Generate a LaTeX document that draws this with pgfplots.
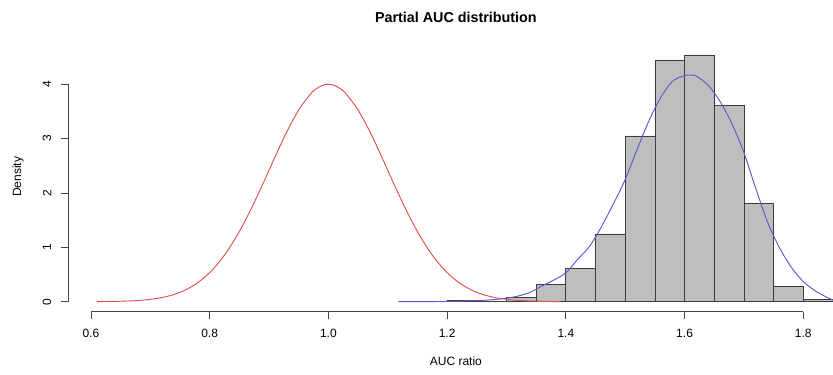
\documentclass[border=0pt]{standalone}
\usepackage{fontspec}
\setmainfont{Liberation Sans}
\usepackage{pgfplots}
\pgfplotsset{compat=1.18}
\definecolor{histgray}{RGB}{190,190,190}
\definecolor{histedge}{RGB}{60,60,60}
\definecolor{rline}{RGB}{225,80,80}
\definecolor{bline}{RGB}{90,90,205}
\definecolor{axgray}{RGB}{70,70,70}
\begin{document}
\begin{tikzpicture}
\begin{axis}[
  scale only axis, width=573.75pt, height=202.35pt,
  xmin=0.5614, xmax=1.85, ymin=-0.184, ymax=4.78,
  axis line style={draw=none},
  xtick={0.6,0.8,1.0,1.2,1.4,1.6,1.8}, ytick={0,1,2,3,4},
  xtick pos=bottom, ytick pos=left,
  tick align=outside, major tick length=5.4pt,
  every tick/.style={axgray, line width=0.6pt},
  /pgf/number format/assume math mode=true,
  xticklabel style={font=\fontsize{9}{10}\selectfont, anchor=center, yshift=-10.8pt, /pgf/number format/fixed, /pgf/number format/fixed zerofill, /pgf/number format/precision=1},
  yticklabel style={font=\fontsize{9}{10}\selectfont, xshift=-10.3pt, rotate=90, anchor=center},
  title={\textbf{Partial AUC distribution}},
  every axis title/.style={font=\fontsize{10.75}{12}\selectfont, at={(axis description cs:0.507,1)}, anchor=center, yshift=18.4pt},
  xlabel={AUC ratio},
  xlabel style={font=\fontsize{9}{10}\selectfont, at={(axis description cs:0.507,-0.1853)}, anchor=center},
  ylabel={Density},
  ylabel style={font=\fontsize{9}{10}\selectfont, at={(axis description cs:-0.0654,0.5)}, anchor=center},
  clip=true,
]
\addplot[ybar interval, fill=histgray, draw=histedge, line width=0.6pt] coordinates {
 (1.20,0.02) (1.25,0) (1.30,0.08) (1.35,0.32) (1.40,0.607) (1.45,1.246)
 (1.50,3.05) (1.55,4.447) (1.60,4.54) (1.65,3.61) (1.70,1.81) (1.75,0.28)
 (1.80,0.04) (1.85,0)
};
\addplot[rline, line width=0.7pt, smooth] coordinates {
 (0.61,0.0019) (0.63,0.0041) (0.65,0.0085) (0.67,0.0167) (0.69,0.0318)
 (0.71,0.0582) (0.73,0.102) (0.75,0.172) (0.77,0.280) (0.79,0.435)
 (0.81,0.651) (0.83,0.935) (0.85,1.290) (0.87,1.710) (0.89,2.176)
 (0.91,2.661) (0.93,3.126) (0.95,3.527) (0.97,3.823) (0.98,3.921) (0.99,3.980)
 (1.00,4.000)
 (1.01,3.980) (1.02,3.921) (1.03,3.823) (1.05,3.527) (1.07,3.126) (1.09,2.661)
 (1.11,2.176) (1.13,1.710) (1.15,1.290) (1.17,0.935) (1.19,0.651)
 (1.21,0.435) (1.23,0.280) (1.25,0.172) (1.27,0.102) (1.29,0.0582)
 (1.31,0.0318) (1.33,0.0167) (1.35,0.0085) (1.37,0.0041) (1.39,0.0019)
};
\addplot[bline, line width=0.7pt, smooth] coordinates {
 (1.118,0.000) (1.15,0.001) (1.20,0.005) (1.25,0.020) (1.28,0.040)
 (1.30,0.065) (1.32,0.105) (1.34,0.175) (1.36,0.290) (1.38,0.400)
 (1.40,0.530) (1.42,0.780) (1.44,1.020) (1.46,1.380) (1.48,1.800)
 (1.50,2.250) (1.52,2.800) (1.54,3.330) (1.56,3.760) (1.58,4.060)
 (1.60,4.160) (1.61,4.170) (1.62,4.150) (1.64,3.980) (1.66,3.680)
 (1.68,3.270) (1.70,2.740) (1.72,2.080) (1.74,1.460) (1.76,0.990)
 (1.78,0.630) (1.80,0.370) (1.82,0.200) (1.84,0.080) (1.85,0.030)
};
\draw[axgray, line width=0.6pt] (axis cs:0.6,-0.184) -- (axis cs:1.8,-0.184);
\draw[axgray, line width=0.6pt] (axis cs:0.5614,0) -- (axis cs:0.5614,4);
\coordinate (SW) at (rel axis cs:0,0);
\coordinate (NE) at (rel axis cs:1,1);
\end{axis}
\path[use as bounding box] ([xshift=-51pt,yshift=-47.475pt]SW) rectangle ([yshift=31.425pt]NE);
\end{tikzpicture}
\end{document}
